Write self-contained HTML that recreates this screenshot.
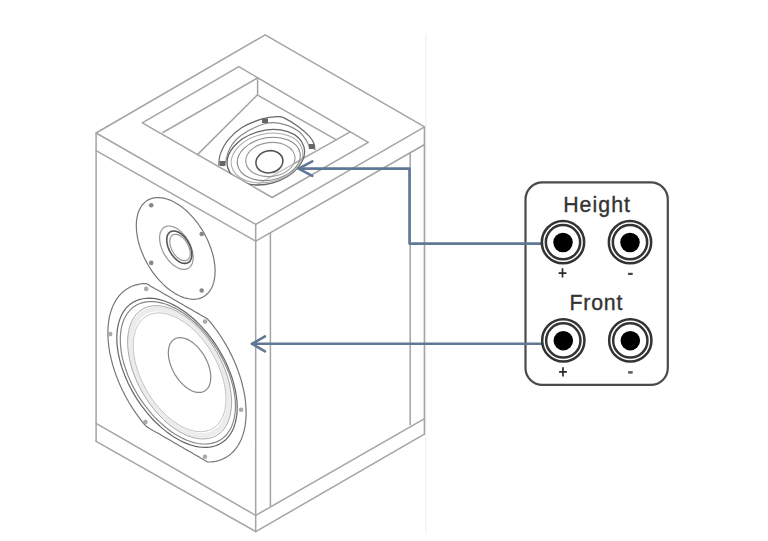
<!DOCTYPE html>
<html><head><meta charset="utf-8">
<style>
html,body{margin:0;padding:0;background:#fff;width:768px;height:541px;overflow:hidden}
svg{display:block}
.t{font-family:"Liberation Sans",sans-serif;fill:#333;stroke:#333;stroke-width:0.35px}
</style></head>
<body>
<svg width="768" height="541" viewBox="0 0 768 541">
<rect width="768" height="541" fill="#fff"/>
<line x1="425.8" y1="34" x2="425.8" y2="533" stroke="#eeeeee" stroke-width="1"/>
<g id="dr">

<g fill="none" stroke="#a4a4a4" stroke-width="1.5" stroke-linecap="round" stroke-linejoin="round">
<path d="M96.1 133 L265.2 34.8 L424.6 126.9 L255.7 224.4 Z"/>
<path d="M96.1 133 V441.4 M255.7 224.4 V531.8 M424.4 126.9 V434.2"/>
<path d="M96.1 150.6 L255.7 241.2 L424.6 144.5"/>
<path d="M270.4 232.8 V506 M410.2 152.6 V424.8"/>
<path d="M96.1 423.3 L255.7 515.4 L424.6 418.7 M96.1 441.4 L255.8 531.6 L424.4 434.2"/>
<path d="M142.3 122.9 L238.8 66.7 L368.3 142.4 L272.2 197.5 Z"/>
<path d="M162.9 132.5 L257.6 77.9 V95.1 L336.4 139.8"/>
<path d="M257.1 95.1 L197.5 154.6"/>
<path d="M349.8 132.1 L294 163.6"/>
<path d="M294 163.6 L253 187" stroke="#c8c8c8"/>
</g>
<defs><clipPath id="drv"><path d="M142.3 122.9 L238.8 66.7 L368.3 142.4 L272.2 197.5 Z"/></clipPath></defs>
<g fill="none" stroke-width="1.2" clip-path="url(#drv)">
<path d="M218.7 165.5 C218.9 163.7 218.6 158.7 220.2 154.4 C221.8 150.1 224.7 144.0 228.3 139.6 C231.9 135.2 235.9 131.2 241.6 127.7 C247.3 124.2 256.4 120.7 262.3 118.9 C268.2 117.1 273.4 116.8 277.1 116.7 C280.8 116.6 281.1 116.5 284.5 118.1 C287.9 119.7 293.6 123.2 297.8 126.3 C302.0 129.4 306.9 133.7 309.6 136.6 C312.3 139.5 313.2 141.8 314.1 144.0 C315.0 146.2 314.7 149.0 314.8 150.0" stroke="#6a6a6a"/>
<path d="M224.6 166.0 C225.5 163.1 227.0 153.7 229.8 148.5 C232.6 143.3 235.9 139.2 241.6 135.1 C247.3 131.0 257.4 126.0 263.8 124.0 C270.2 122.0 274.3 122.2 280.0 123.3 C285.7 124.4 293.4 127.7 297.8 130.7 C302.2 133.6 304.7 138.0 306.7 141.0 C308.7 144.0 309.1 147.2 309.6 148.5" stroke="#8a8a8a"/>
<ellipse cx="265.8" cy="157.2" rx="39.5" ry="26.6" transform="rotate(-15.5 265.8 157.2)" stroke="#666" stroke-width="1.3"/>
<ellipse cx="267" cy="158" rx="36.3" ry="24.2" transform="rotate(-13 267 158)" stroke="#aaa" stroke-width="1"/>
<ellipse cx="268.8" cy="158.9" rx="31.8" ry="21.2" transform="rotate(-10.7 268.8 158.9)" stroke="#888" stroke-width="1.1"/>
<ellipse cx="270.4" cy="159.5" rx="24.7" ry="17" transform="rotate(-6 270.4 159.5)" stroke="#999" stroke-width="1.1"/>
<ellipse cx="269.4" cy="161.8" rx="13.6" ry="11" transform="rotate(-12 269.4 161.8)" stroke="#555" stroke-width="1.6"/>
</g>
<g fill="#666"><rect x="262" y="118.5" width="6" height="4.5"/><rect x="309" y="144" width="5" height="5"/><rect x="219.5" y="161" width="5.5" height="5"/></g>
<g fill="none" stroke="#777" stroke-width="1.2">
<path d="M215.1 271.1 L215.0 273.5 L214.9 275.8 L214.6 278.0 L214.2 280.1 L213.8 282.2 L213.2 284.1 L212.5 285.9 L211.7 287.7 L210.8 289.3 L209.8 290.9 L208.7 292.3 L207.6 293.5 L206.3 294.7 L205.0 295.8 L203.6 296.7 L202.1 297.4 L200.5 298.1 L198.9 298.6 L197.2 299.0 L195.4 299.2 L193.6 299.3 L191.7 299.2 L189.8 299.0 L187.9 298.7 L185.9 298.2 L183.9 297.6 L181.9 296.9 L179.8 296.0 L177.8 295.0 L175.7 293.9 L173.6 292.6 L171.6 291.3 L169.5 289.8 L167.5 288.2 L165.5 286.5 L163.5 284.6 L161.6 282.7 L159.7 280.7 L157.8 278.6 L156.0 276.4 L154.2 274.2 L152.5 271.8 L150.9 269.4 L149.3 267.0 L147.8 264.5 L146.4 261.9 L145.1 259.4 L143.8 256.7 L142.7 254.1 L141.6 251.4 L140.6 248.8 L139.7 246.1 L138.9 243.5 L138.2 240.8 L137.6 238.2 L137.2 235.6 L136.8 233.0 L136.5 230.5 L136.4 228.1 L136.3 225.7 L136.4 223.3 L136.5 221.0 L136.8 218.8 L137.2 216.7 L137.6 214.6 L138.2 212.7 L138.9 210.9 L139.7 209.1 L140.6 207.5 L141.6 205.9 L142.7 204.5 L143.8 203.3 L145.1 202.1 L146.4 201.0 L147.8 200.1 L149.3 199.4 L150.9 198.7 L152.5 198.2 L154.2 197.8 L156.0 197.6 L157.8 197.5 L159.7 197.6 L161.6 197.8 L163.5 198.1 L165.5 198.6 L167.5 199.2 L169.5 199.9 L171.6 200.8 L173.6 201.8 L175.7 202.9 L177.8 204.2 L179.8 205.5 L181.9 207.0 L183.9 208.6 L185.9 210.3 L187.9 212.2 L189.8 214.1 L191.7 216.1 L193.6 218.2 L195.4 220.4 L197.2 222.6 L198.9 225.0 L200.5 227.4 L202.1 229.8 L203.6 232.3 L205.0 234.9 L206.3 237.4 L207.6 240.1 L208.7 242.7 L209.8 245.4 L210.8 248.0 L211.7 250.7 L212.5 253.3 L213.2 256.0 L213.8 258.6 L214.2 261.2 L214.6 263.8 L214.9 266.3 L215.0 268.7 Z"/>
<path d="M193.2 257.4 L193.2 258.4 L193.1 259.4 L193.0 260.3 L192.8 261.2 L192.6 262.1 L192.4 262.9 L192.1 263.7 L191.7 264.5 L191.4 265.2 L190.9 265.8 L190.5 266.4 L190.0 267.0 L189.5 267.4 L188.9 267.9 L188.3 268.3 L187.6 268.6 L187.0 268.9 L186.3 269.1 L185.6 269.3 L184.8 269.4 L184.0 269.4 L183.2 269.4 L182.4 269.3 L181.6 269.1 L180.7 268.9 L179.9 268.7 L179.0 268.4 L178.2 268.0 L177.3 267.6 L176.4 267.1 L175.5 266.6 L174.6 266.0 L173.8 265.3 L172.9 264.7 L172.1 263.9 L171.2 263.2 L170.4 262.3 L169.6 261.5 L168.8 260.6 L168.0 259.7 L167.2 258.7 L166.5 257.7 L165.8 256.7 L165.2 255.6 L164.5 254.6 L163.9 253.5 L163.3 252.4 L162.8 251.3 L162.3 250.1 L161.9 249.0 L161.4 247.9 L161.1 246.7 L160.7 245.6 L160.4 244.5 L160.2 243.4 L160.0 242.2 L159.8 241.2 L159.7 240.1 L159.6 239.0 L159.6 238.0 L159.6 237.0 L159.7 236.0 L159.8 235.1 L160.0 234.2 L160.2 233.3 L160.4 232.5 L160.7 231.7 L161.1 230.9 L161.4 230.2 L161.9 229.6 L162.3 229.0 L162.8 228.4 L163.3 228.0 L163.9 227.5 L164.5 227.1 L165.2 226.8 L165.8 226.5 L166.5 226.3 L167.2 226.1 L168.0 226.0 L168.8 226.0 L169.6 226.0 L170.4 226.1 L171.2 226.3 L172.1 226.5 L172.9 226.7 L173.8 227.0 L174.6 227.4 L175.5 227.8 L176.4 228.3 L177.3 228.8 L178.2 229.4 L179.0 230.1 L179.9 230.7 L180.7 231.5 L181.6 232.2 L182.4 233.1 L183.2 233.9 L184.0 234.8 L184.8 235.7 L185.6 236.7 L186.3 237.7 L187.0 238.7 L187.6 239.8 L188.3 240.8 L188.9 241.9 L189.5 243.0 L190.0 244.1 L190.5 245.3 L190.9 246.4 L191.4 247.5 L191.7 248.7 L192.1 249.8 L192.4 250.9 L192.6 252.0 L192.8 253.2 L193.0 254.2 L193.1 255.3 L193.2 256.4 Z" stroke="#999"/>
<path d="M191.9 254.4 L191.8 255.2 L191.8 255.9 L191.7 256.6 L191.6 257.3 L191.4 258.0 L191.2 258.6 L191.0 259.2 L190.8 259.7 L190.5 260.2 L190.2 260.7 L189.8 261.2 L189.5 261.6 L189.1 262.0 L188.6 262.3 L188.2 262.6 L187.7 262.8 L187.2 263.0 L186.7 263.2 L186.1 263.3 L185.6 263.4 L185.0 263.4 L184.4 263.4 L183.8 263.3 L183.2 263.2 L182.5 263.1 L181.9 262.9 L181.3 262.7 L180.6 262.4 L180.0 262.1 L179.3 261.7 L178.6 261.3 L178.0 260.9 L177.3 260.4 L176.7 259.9 L176.1 259.3 L175.4 258.7 L174.8 258.1 L174.2 257.5 L173.6 256.8 L173.0 256.1 L172.5 255.4 L171.9 254.7 L171.4 253.9 L170.9 253.1 L170.4 252.3 L170.0 251.5 L169.5 250.7 L169.1 249.9 L168.8 249.0 L168.4 248.2 L168.1 247.3 L167.8 246.5 L167.6 245.6 L167.4 244.8 L167.2 243.9 L167.0 243.1 L166.9 242.3 L166.8 241.5 L166.8 240.7 L166.7 239.9 L166.8 239.2 L166.8 238.5 L166.9 237.8 L167.0 237.1 L167.2 236.4 L167.4 235.8 L167.6 235.2 L167.8 234.7 L168.1 234.2 L168.4 233.7 L168.8 233.2 L169.1 232.8 L169.5 232.4 L170.0 232.1 L170.4 231.8 L170.9 231.6 L171.4 231.4 L171.9 231.2 L172.5 231.1 L173.0 231.0 L173.6 231.0 L174.2 231.0 L174.8 231.1 L175.4 231.2 L176.1 231.3 L176.7 231.5 L177.3 231.7 L178.0 232.0 L178.6 232.3 L179.3 232.7 L180.0 233.1 L180.6 233.5 L181.3 234.0 L181.9 234.5 L182.5 235.1 L183.2 235.7 L183.8 236.3 L184.4 236.9 L185.0 237.6 L185.6 238.3 L186.1 239.0 L186.7 239.7 L187.2 240.5 L187.7 241.3 L188.2 242.1 L188.6 242.9 L189.1 243.7 L189.5 244.5 L189.8 245.4 L190.2 246.2 L190.5 247.1 L190.8 247.9 L191.0 248.8 L191.2 249.6 L191.4 250.5 L191.6 251.3 L191.7 252.1 L191.8 252.9 L191.8 253.7 Z" stroke="#555" stroke-width="1.6"/>
<path d="M190.2 253.4 L190.2 254.0 L190.2 254.6 L190.1 255.2 L190.0 255.7 L189.9 256.3 L189.7 256.8 L189.5 257.2 L189.3 257.7 L189.1 258.1 L188.8 258.5 L188.6 258.9 L188.3 259.2 L187.9 259.5 L187.6 259.8 L187.2 260.0 L186.8 260.2 L186.4 260.4 L186.0 260.5 L185.6 260.6 L185.1 260.7 L184.6 260.7 L184.2 260.7 L183.7 260.6 L183.2 260.5 L182.6 260.4 L182.1 260.3 L181.6 260.1 L181.1 259.9 L180.5 259.6 L180.0 259.3 L179.5 259.0 L178.9 258.6 L178.4 258.2 L177.9 257.8 L177.4 257.4 L176.8 256.9 L176.3 256.4 L175.8 255.9 L175.4 255.3 L174.9 254.8 L174.4 254.2 L174.0 253.6 L173.6 253.0 L173.2 252.3 L172.8 251.7 L172.4 251.0 L172.1 250.3 L171.7 249.7 L171.4 249.0 L171.2 248.3 L170.9 247.6 L170.7 246.9 L170.5 246.2 L170.3 245.5 L170.1 244.9 L170.0 244.2 L169.9 243.5 L169.8 242.9 L169.8 242.2 L169.8 241.6 L169.8 241.0 L169.8 240.4 L169.9 239.8 L170.0 239.3 L170.1 238.7 L170.3 238.2 L170.5 237.8 L170.7 237.3 L170.9 236.9 L171.2 236.5 L171.4 236.1 L171.7 235.8 L172.1 235.5 L172.4 235.2 L172.8 235.0 L173.2 234.8 L173.6 234.6 L174.0 234.5 L174.4 234.4 L174.9 234.3 L175.4 234.3 L175.8 234.3 L176.3 234.4 L176.8 234.5 L177.4 234.6 L177.9 234.7 L178.4 234.9 L178.9 235.1 L179.5 235.4 L180.0 235.7 L180.5 236.0 L181.1 236.4 L181.6 236.8 L182.1 237.2 L182.6 237.6 L183.2 238.1 L183.7 238.6 L184.2 239.1 L184.6 239.7 L185.1 240.2 L185.6 240.8 L186.0 241.4 L186.4 242.0 L186.8 242.7 L187.2 243.3 L187.6 244.0 L187.9 244.7 L188.3 245.3 L188.6 246.0 L188.8 246.7 L189.1 247.4 L189.3 248.1 L189.5 248.8 L189.7 249.5 L189.9 250.1 L190.0 250.8 L190.1 251.5 L190.2 252.1 L190.2 252.8 Z" stroke="#999"/>
</g>
<g fill="#888"><circle cx="151.2" cy="205.2" r="2.3"/><circle cx="201.7" cy="234" r="2.3"/><circle cx="151.2" cy="262.9" r="2.3"/><circle cx="201.7" cy="290.5" r="2.3"/></g>
<g fill="none" stroke="#777" stroke-width="1.2">
<path d="M246.1 412.7 L246.1 415.5 L245.9 418.2 L245.7 420.8 L245.4 423.4 L245.1 426.0 L244.6 428.4 L244.1 430.8 L243.4 433.2 L242.7 435.4 L241.9 437.6 L241.1 439.7 L240.1 441.7 L239.1 443.6 L238.0 445.5 L236.8 447.3 L235.6 448.9 L234.3 450.5 L232.9 452.0 L231.5 453.4 L229.9 454.7 L228.4 455.8 L226.7 456.9 L225.0 457.9 L223.2 458.8 L221.4 459.6 L219.5 460.2 L217.6 460.8 L215.6 461.3 L213.6 461.6 L211.6 461.9 L209.4 462.0 L207.3 461.8 L205.1 460.5 L202.9 459.2 L200.6 457.9 L198.4 456.6 L196.0 455.3 L193.7 454.0 L191.4 452.6 L189.0 451.2 L186.6 449.9 L184.2 448.5 L181.8 447.1 L179.4 445.7 L177.0 444.3 L174.6 442.9 L172.2 441.5 L169.8 440.1 L167.4 438.7 L165.0 437.4 L162.6 436.0 L160.3 434.6 L158.0 433.3 L155.6 432.0 L153.4 430.7 L151.1 429.4 L148.9 428.1 L146.7 426.8 L144.6 424.5 L142.4 422.0 L140.4 419.3 L138.4 416.6 L136.4 413.9 L134.5 411.1 L132.6 408.3 L130.8 405.4 L129.0 402.5 L127.3 399.5 L125.6 396.5 L124.1 393.5 L122.5 390.5 L121.1 387.4 L119.7 384.3 L118.4 381.3 L117.2 378.1 L116.0 375.0 L114.9 371.9 L113.9 368.8 L112.9 365.7 L112.1 362.6 L111.3 359.5 L110.6 356.4 L109.9 353.4 L109.4 350.4 L108.9 347.4 L108.6 344.4 L108.3 341.5 L108.1 338.6 L107.9 335.7 L107.9 332.9 L107.9 330.1 L108.1 327.4 L108.3 324.8 L108.6 322.2 L108.9 319.6 L109.4 317.2 L109.9 314.8 L110.6 312.4 L111.3 310.2 L112.1 308.0 L112.9 305.9 L113.9 303.9 L114.9 302.0 L116.0 300.1 L117.2 298.3 L118.4 296.7 L119.7 295.1 L121.1 293.6 L122.5 292.2 L124.1 290.9 L125.6 289.8 L127.3 288.7 L129.0 287.7 L130.8 286.8 L132.6 286.0 L134.5 285.4 L136.4 284.8 L138.4 284.3 L140.4 284.0 L142.4 283.7 L144.6 283.6 L146.7 283.8 L148.9 285.1 L151.1 286.4 L153.4 287.7 L155.6 289.0 L158.0 290.3 L160.3 291.6 L162.6 293.0 L165.0 294.4 L167.4 295.7 L169.8 297.1 L172.2 298.5 L174.6 299.9 L177.0 301.3 L179.4 302.7 L181.8 304.1 L184.2 305.5 L186.6 306.9 L189.0 308.2 L191.4 309.6 L193.7 311.0 L196.0 312.3 L198.4 313.6 L200.6 314.9 L202.9 316.2 L205.1 317.5 L207.3 318.8 L209.4 321.1 L211.6 323.6 L213.6 326.3 L215.6 329.0 L217.6 331.7 L219.5 334.5 L221.4 337.3 L223.2 340.2 L225.0 343.1 L226.7 346.1 L228.4 349.1 L229.9 352.1 L231.5 355.1 L232.9 358.2 L234.3 361.3 L235.6 364.3 L236.8 367.5 L238.0 370.6 L239.1 373.7 L240.1 376.8 L241.1 379.9 L241.9 383.0 L242.7 386.1 L243.4 389.2 L244.1 392.2 L244.6 395.2 L245.1 398.2 L245.4 401.2 L245.7 404.1 L245.9 407.0 L246.1 409.9 Z"/>
<path d="M237.2 407.6 L237.1 411.0 L236.9 414.3 L236.4 417.4 L235.9 420.5 L235.1 423.4 L234.2 426.2 L233.2 428.9 L232.0 431.4 L230.6 433.7 L229.1 435.9 L227.5 437.9 L225.7 439.7 L223.8 441.3 L221.7 442.8 L219.6 444.0 L217.3 445.1 L214.9 446.0 L212.4 446.6 L209.8 447.1 L207.1 447.3 L204.3 447.4 L201.5 447.2 L198.6 446.9 L195.6 446.3 L192.6 445.5 L189.5 444.6 L186.4 443.4 L183.3 442.1 L180.1 440.5 L177.0 438.8 L173.9 436.9 L170.7 434.8 L167.6 432.6 L164.5 430.1 L161.4 427.6 L158.4 424.8 L155.4 422.0 L152.5 419.0 L149.7 415.8 L146.9 412.6 L144.2 409.2 L141.6 405.8 L139.1 402.2 L136.7 398.6 L134.4 394.9 L132.3 391.1 L130.2 387.3 L128.3 383.5 L126.5 379.6 L124.9 375.7 L123.4 371.8 L122.0 367.9 L120.8 364.0 L119.8 360.1 L118.9 356.3 L118.1 352.5 L117.6 348.8 L117.1 345.1 L116.9 341.6 L116.8 338.1 L116.9 334.6 L117.1 331.3 L117.6 328.2 L118.1 325.1 L118.9 322.2 L119.8 319.4 L120.8 316.7 L122.0 314.2 L123.4 311.9 L124.9 309.7 L126.5 307.7 L128.3 305.9 L130.2 304.3 L132.3 302.8 L134.4 301.6 L136.7 300.5 L139.1 299.6 L141.6 299.0 L144.2 298.5 L146.9 298.3 L149.7 298.2 L152.5 298.4 L155.4 298.7 L158.4 299.3 L161.4 300.1 L164.5 301.0 L167.6 302.2 L170.7 303.5 L173.9 305.1 L177.0 306.8 L180.1 308.7 L183.3 310.8 L186.4 313.0 L189.5 315.5 L192.6 318.0 L195.6 320.8 L198.6 323.6 L201.5 326.6 L204.3 329.8 L207.1 333.0 L209.8 336.4 L212.4 339.8 L214.9 343.4 L217.3 347.0 L219.6 350.7 L221.7 354.5 L223.8 358.3 L225.7 362.1 L227.5 366.0 L229.1 369.9 L230.6 373.8 L232.0 377.7 L233.2 381.6 L234.2 385.5 L235.1 389.3 L235.9 393.1 L236.4 396.8 L236.9 400.5 L237.1 404.0 Z" stroke="#666"/>
<path d="M235.5 406.1 L235.4 409.3 L235.1 412.5 L234.7 415.5 L234.2 418.4 L233.5 421.2 L232.6 423.9 L231.6 426.4 L230.5 428.8 L229.2 431.0 L227.7 433.1 L226.2 435.0 L224.5 436.7 L222.6 438.3 L220.7 439.7 L218.6 440.9 L216.4 441.9 L214.1 442.7 L211.7 443.3 L209.2 443.7 L206.7 444.0 L204.0 444.0 L201.3 443.9 L198.5 443.5 L195.7 443.0 L192.8 442.3 L189.8 441.3 L186.9 440.2 L183.9 438.9 L180.9 437.5 L177.9 435.8 L174.9 434.0 L171.8 432.0 L168.9 429.8 L165.9 427.5 L163.0 425.0 L160.1 422.4 L157.2 419.7 L154.4 416.8 L151.7 413.8 L149.1 410.7 L146.5 407.5 L144.0 404.2 L141.6 400.8 L139.3 397.4 L137.1 393.8 L135.1 390.2 L133.1 386.6 L131.3 382.9 L129.6 379.2 L128.0 375.5 L126.6 371.8 L125.3 368.0 L124.1 364.3 L123.1 360.6 L122.2 357.0 L121.5 353.4 L121.0 349.8 L120.6 346.3 L120.4 342.9 L120.3 339.6 L120.4 336.3 L120.6 333.1 L121.0 330.1 L121.5 327.2 L122.2 324.4 L123.1 321.7 L124.1 319.2 L125.3 316.8 L126.6 314.6 L128.0 312.5 L129.6 310.6 L131.3 308.9 L133.1 307.3 L135.1 305.9 L137.1 304.7 L139.3 303.7 L141.6 302.9 L144.0 302.3 L146.5 301.9 L149.1 301.6 L151.7 301.6 L154.4 301.7 L157.2 302.1 L160.1 302.6 L163.0 303.3 L165.9 304.3 L168.9 305.4 L171.8 306.7 L174.9 308.1 L177.9 309.8 L180.9 311.6 L183.9 313.6 L186.9 315.8 L189.8 318.1 L192.8 320.6 L195.7 323.2 L198.5 325.9 L201.3 328.8 L204.0 331.8 L206.7 334.9 L209.2 338.1 L211.7 341.4 L214.1 344.8 L216.4 348.2 L218.6 351.8 L220.7 355.4 L222.6 359.0 L224.5 362.7 L226.2 366.4 L227.7 370.1 L229.2 373.8 L230.5 377.6 L231.6 381.3 L232.6 385.0 L233.5 388.6 L234.2 392.2 L234.7 395.8 L235.1 399.3 L235.4 402.7 Z" stroke="#888"/>
<path d="M229.0 400.8 L228.9 403.7 L228.7 406.5 L228.4 409.3 L227.9 411.9 L227.3 414.5 L226.5 416.9 L225.7 419.2 L224.7 421.3 L223.6 423.3 L222.3 425.2 L221.0 427.0 L219.5 428.6 L218.0 430.0 L216.3 431.3 L214.5 432.4 L212.6 433.4 L210.7 434.1 L208.6 434.8 L206.5 435.2 L204.3 435.5 L202.0 435.6 L199.7 435.5 L197.3 435.3 L194.9 434.8 L192.4 434.3 L189.9 433.5 L187.3 432.6 L184.8 431.5 L182.2 430.2 L179.6 428.8 L177.0 427.2 L174.4 425.5 L171.9 423.6 L169.3 421.6 L166.8 419.5 L164.3 417.2 L161.9 414.8 L159.5 412.3 L157.2 409.7 L154.9 407.0 L152.7 404.2 L150.6 401.3 L148.5 398.3 L146.6 395.2 L144.7 392.1 L142.9 388.9 L141.2 385.7 L139.7 382.5 L138.2 379.2 L136.8 375.9 L135.6 372.6 L134.5 369.2 L133.5 365.9 L132.7 362.7 L131.9 359.4 L131.3 356.2 L130.8 353.0 L130.5 349.9 L130.3 346.8 L130.2 343.8 L130.3 340.9 L130.5 338.1 L130.8 335.3 L131.3 332.7 L131.9 330.1 L132.7 327.7 L133.5 325.4 L134.5 323.3 L135.6 321.3 L136.8 319.4 L138.2 317.6 L139.7 316.0 L141.2 314.6 L142.9 313.3 L144.7 312.2 L146.6 311.2 L148.5 310.5 L150.6 309.8 L152.7 309.4 L154.9 309.1 L157.2 309.0 L159.5 309.1 L161.9 309.3 L164.3 309.8 L166.8 310.3 L169.3 311.1 L171.9 312.0 L174.4 313.1 L177.0 314.4 L179.6 315.8 L182.2 317.4 L184.8 319.1 L187.3 321.0 L189.9 323.0 L192.4 325.1 L194.9 327.4 L197.3 329.8 L199.7 332.3 L202.0 334.9 L204.3 337.6 L206.5 340.4 L208.6 343.3 L210.7 346.3 L212.6 349.4 L214.5 352.5 L216.3 355.7 L218.0 358.9 L219.5 362.1 L221.0 365.4 L222.3 368.7 L223.6 372.0 L224.7 375.4 L225.7 378.7 L226.5 381.9 L227.3 385.2 L227.9 388.4 L228.4 391.6 L228.7 394.7 L228.9 397.8 Z" stroke="#ececec" stroke-width="5"/>
<path d="M231.6 402.3 L231.5 405.4 L231.3 408.4 L230.9 411.2 L230.4 414.0 L229.8 416.7 L229.0 419.2 L228.1 421.6 L227.1 423.9 L225.9 426.0 L224.6 428.0 L223.2 429.9 L221.6 431.5 L220.0 433.1 L218.2 434.4 L216.3 435.6 L214.4 436.6 L212.3 437.4 L210.1 438.1 L207.9 438.5 L205.6 438.8 L203.2 438.9 L200.7 438.9 L198.2 438.6 L195.7 438.2 L193.0 437.5 L190.4 436.7 L187.7 435.8 L185.0 434.6 L182.3 433.3 L179.6 431.8 L176.9 430.1 L174.2 428.3 L171.5 426.4 L168.8 424.3 L166.1 422.0 L163.5 419.6 L161.0 417.1 L158.5 414.5 L156.0 411.7 L153.6 408.8 L151.3 405.9 L149.1 402.8 L146.9 399.7 L144.8 396.4 L142.9 393.2 L141.0 389.8 L139.2 386.4 L137.6 383.0 L136.0 379.5 L134.6 376.1 L133.3 372.6 L132.1 369.1 L131.1 365.6 L130.2 362.2 L129.4 358.7 L128.8 355.3 L128.3 352.0 L127.9 348.7 L127.7 345.5 L127.6 342.3 L127.7 339.2 L127.9 336.2 L128.3 333.4 L128.8 330.6 L129.4 327.9 L130.2 325.4 L131.1 323.0 L132.1 320.7 L133.3 318.6 L134.6 316.6 L136.0 314.7 L137.6 313.1 L139.2 311.5 L141.0 310.2 L142.9 309.0 L144.8 308.0 L146.9 307.2 L149.1 306.5 L151.3 306.1 L153.6 305.8 L156.0 305.7 L158.5 305.7 L161.0 306.0 L163.5 306.4 L166.1 307.1 L168.8 307.9 L171.5 308.8 L174.2 310.0 L176.9 311.3 L179.6 312.8 L182.3 314.5 L185.0 316.3 L187.7 318.2 L190.4 320.3 L193.0 322.6 L195.7 325.0 L198.2 327.5 L200.7 330.1 L203.2 332.9 L205.6 335.8 L207.9 338.7 L210.1 341.8 L212.3 344.9 L214.4 348.2 L216.3 351.4 L218.2 354.8 L220.0 358.2 L221.6 361.6 L223.2 365.1 L224.6 368.5 L225.9 372.0 L227.1 375.5 L228.1 379.0 L229.0 382.4 L229.8 385.9 L230.4 389.3 L230.9 392.6 L231.3 395.9 L231.5 399.1 Z" stroke="#aaa" stroke-width="1"/>
<path d="M225.9 399.1 L225.9 401.8 L225.7 404.4 L225.4 407.0 L224.9 409.5 L224.4 411.9 L223.7 414.1 L222.9 416.3 L221.9 418.3 L220.9 420.2 L219.7 422.0 L218.5 423.6 L217.1 425.1 L215.6 426.4 L214.0 427.6 L212.4 428.7 L210.6 429.6 L208.8 430.3 L206.8 430.9 L204.8 431.3 L202.8 431.6 L200.6 431.7 L198.4 431.6 L196.2 431.4 L193.9 431.0 L191.6 430.4 L189.2 429.7 L186.8 428.8 L184.4 427.8 L182.0 426.6 L179.6 425.3 L177.2 423.8 L174.8 422.2 L172.4 420.5 L170.0 418.6 L167.6 416.6 L165.3 414.4 L163.0 412.2 L160.8 409.8 L158.6 407.4 L156.4 404.8 L154.4 402.2 L152.4 399.5 L150.4 396.7 L148.6 393.8 L146.8 390.9 L145.2 387.9 L143.6 384.9 L142.1 381.8 L140.7 378.7 L139.5 375.6 L138.3 372.5 L137.3 369.4 L136.3 366.3 L135.5 363.2 L134.8 360.2 L134.3 357.2 L133.8 354.2 L133.5 351.2 L133.3 348.4 L133.3 345.6 L133.3 342.8 L133.5 340.2 L133.8 337.6 L134.3 335.1 L134.8 332.7 L135.5 330.5 L136.3 328.3 L137.3 326.3 L138.3 324.4 L139.5 322.6 L140.7 321.0 L142.1 319.5 L143.6 318.2 L145.2 317.0 L146.8 315.9 L148.6 315.0 L150.4 314.3 L152.4 313.7 L154.4 313.3 L156.4 313.0 L158.6 312.9 L160.8 313.0 L163.0 313.2 L165.3 313.6 L167.6 314.2 L170.0 314.9 L172.4 315.8 L174.8 316.8 L177.2 318.0 L179.6 319.3 L182.0 320.8 L184.4 322.4 L186.8 324.1 L189.2 326.0 L191.6 328.0 L193.9 330.2 L196.2 332.4 L198.4 334.8 L200.6 337.2 L202.8 339.8 L204.8 342.4 L206.8 345.1 L208.8 347.9 L210.6 350.8 L212.4 353.7 L214.0 356.7 L215.6 359.7 L217.1 362.8 L218.5 365.9 L219.7 369.0 L220.9 372.1 L221.9 375.2 L222.9 378.3 L223.7 381.4 L224.4 384.4 L224.9 387.4 L225.4 390.4 L225.7 393.4 L225.9 396.2 Z" stroke="#c4c4c4" stroke-width="1"/>
<path d="M210.8 377.3 L210.7 378.6 L210.7 379.8 L210.5 381.0 L210.3 382.1 L210.1 383.2 L209.7 384.3 L209.4 385.3 L208.9 386.2 L208.5 387.1 L207.9 387.9 L207.4 388.7 L206.7 389.4 L206.0 390.0 L205.3 390.5 L204.6 391.0 L203.8 391.5 L202.9 391.8 L202.0 392.1 L201.1 392.3 L200.2 392.4 L199.2 392.4 L198.2 392.4 L197.2 392.3 L196.1 392.1 L195.0 391.9 L194.0 391.6 L192.9 391.2 L191.8 390.7 L190.7 390.2 L189.6 389.6 L188.4 388.9 L187.3 388.1 L186.2 387.3 L185.1 386.5 L184.1 385.5 L183.0 384.6 L182.0 383.5 L180.9 382.4 L179.9 381.3 L178.9 380.1 L178.0 378.9 L177.1 377.7 L176.2 376.4 L175.4 375.1 L174.6 373.7 L173.8 372.3 L173.1 370.9 L172.4 369.5 L171.8 368.1 L171.2 366.7 L170.7 365.3 L170.2 363.8 L169.7 362.4 L169.4 361.0 L169.1 359.6 L168.8 358.2 L168.6 356.8 L168.5 355.4 L168.4 354.1 L168.3 352.8 L168.4 351.5 L168.5 350.3 L168.6 349.1 L168.8 348.0 L169.1 346.9 L169.4 345.8 L169.7 344.8 L170.2 343.9 L170.7 343.0 L171.2 342.2 L171.8 341.4 L172.4 340.7 L173.1 340.1 L173.8 339.6 L174.6 339.1 L175.4 338.6 L176.2 338.3 L177.1 338.0 L178.0 337.8 L178.9 337.7 L179.9 337.7 L180.9 337.7 L182.0 337.8 L183.0 338.0 L184.1 338.2 L185.1 338.5 L186.2 338.9 L187.3 339.4 L188.4 339.9 L189.6 340.6 L190.7 341.2 L191.8 342.0 L192.9 342.8 L194.0 343.6 L195.0 344.6 L196.1 345.5 L197.2 346.6 L198.2 347.7 L199.2 348.8 L200.2 350.0 L201.1 351.2 L202.0 352.4 L202.9 353.7 L203.8 355.0 L204.6 356.4 L205.3 357.8 L206.0 359.2 L206.7 360.6 L207.4 362.0 L207.9 363.4 L208.5 364.8 L208.9 366.3 L209.4 367.7 L209.7 369.1 L210.1 370.5 L210.3 371.9 L210.5 373.3 L210.7 374.7 L210.7 376.0 Z" stroke="#888"/>
</g>
<g fill="#aaa">
<circle cx="146.2" cy="288.9" r="2.3"/>
<circle cx="205.1" cy="321.6" r="2.3"/>
<circle cx="241.1" cy="409.7" r="2.3"/>
<circle cx="205" cy="456.8" r="2.3"/>
<circle cx="145.4" cy="422" r="2.3"/>
<circle cx="110.2" cy="334.1" r="2.3"/>
</g>
</g>
<rect x="525.5" y="182.4" width="142.3" height="202.5" rx="17" ry="17" fill="#fff" stroke="#4a4a4a" stroke-width="2.2"/>
<g fill="none" stroke="#5f7895" stroke-width="2.6" stroke-linecap="round" stroke-linejoin="round">
  <path d="M542 243.6 H409.5 V168.6 H298.5"/>
  <path d="M312.3 161.3 L298.5 168.6 L312.3 175.9"/>
  <path d="M542 343.8 H252"/>
  <path d="M265 336.3 L252 343.8 L265 351.3"/>
</g>
<text class="t" x="563.2" y="211.8" font-size="21.3" letter-spacing="1.05">Height</text>
<text class="t" x="569.6" y="310" font-size="21.3" letter-spacing="0.75">Front</text>
<g fill="none" stroke="#333" stroke-width="2.5">
  <circle cx="563" cy="242.2" r="21.15"/><circle cx="563" cy="242.2" r="17.15"/>
  <circle cx="630" cy="242.2" r="21.15"/><circle cx="630" cy="242.2" r="17.15"/>
  <circle cx="563.3" cy="340.4" r="21.15"/><circle cx="563.3" cy="340.4" r="17.15"/>
  <circle cx="630.3" cy="340.4" r="21.15"/><circle cx="630.3" cy="340.4" r="17.15"/>
</g>
<g fill="#000">
  <circle cx="563" cy="242.5" r="9.75"/><circle cx="630" cy="242.5" r="9.75"/>
  <circle cx="563.3" cy="340.7" r="9.75"/><circle cx="630.3" cy="340.7" r="9.75"/>
</g>
<g stroke="#2a2a2a" stroke-width="1.7">
  <path d="M558.6 273.2 H566.4 M562.5 268.2 V277.6"/>
  <path d="M628.1 273.9 H632.7" stroke-width="2.2" stroke="#444"/>
  <path d="M559.1 371.8 H566.9 M563 367.2 V376.5"/>
  <path d="M628.1 372.4 H632.7" stroke-width="2.4" stroke="#555"/>
</g>
</svg>
</body></html>
